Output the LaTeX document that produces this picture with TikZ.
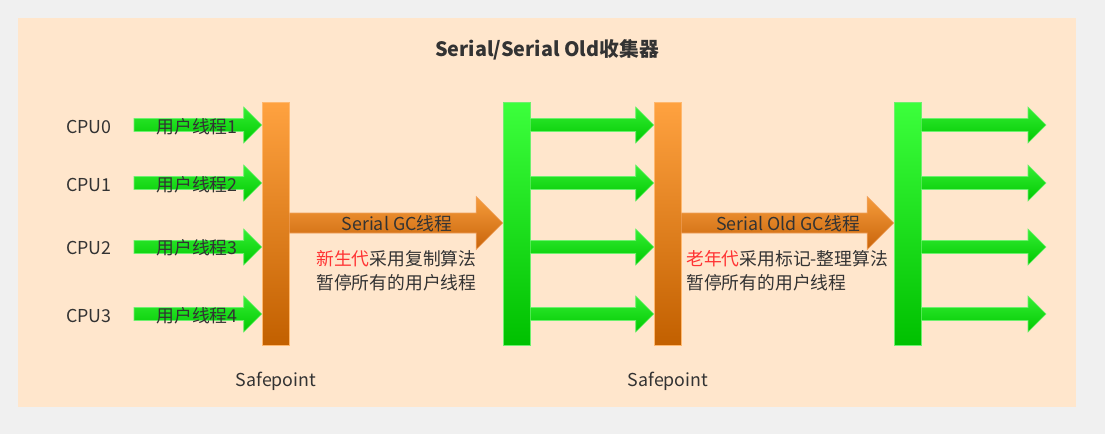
\documentclass[tikz,border=0pt]{standalone}
\usepackage{fontspec}
\setmainfont{Noto Sans CJK SC}
\usepackage{tikz}
\usetikzlibrary{calc}
\definecolor{peach}{HTML}{FFE6CC}
\definecolor{pagegray}{HTML}{F0F0F0}
\definecolor{txt}{HTML}{333333}
\definecolor{hot}{HTML}{FF3333}
\tikzset{
	every node/.style={text=txt, font=\fontsize{17.8}{21}\selectfont},
	spbar/.style={minimum width=27pt, minimum height=243pt, inner sep=0pt, top color={rgb,255:red,255;green,162;blue,64}, bottom color={rgb,255:red,194;green,96;blue,0}, draw={rgb,255:red,255;green,184;blue,110}, line width=0.6pt},
	gcbar/.style={minimum width=27pt, minimum height=243pt, inner sep=0pt, top color={rgb,255:red,60;green,255;blue,60}, bottom color={rgb,255:red,0;green,192;blue,0}, draw={rgb,255:red,110;green,240;blue,110}, line width=0.6pt},
	garrow/.style={top color={rgb,255:red,52;green,238;blue,52}, bottom color={rgb,255:red,0;green,200;blue,0}, draw={rgb,255:red,110;green,240;blue,110}, line width=0.6pt},
	oarrow/.style={top color={rgb,255:red,246;green,156;blue,60}, bottom color={rgb,255:red,200;green,100;blue,10}, draw={rgb,255:red,240;green,160;blue,90}, line width=0.6pt}
}
% block arrow: style, from, to, half shaft, half head
\newcommand{\blkarrow}[5]{%
\path[#1] let \p1=(#2), \p2=(#3) in (\x1,\y1+#4pt) -- (\x2-#5pt,\y1+#4pt) -- (\x2-#5pt,\y1+#5pt) -- (\x2,\y1) -- (\x2-#5pt,\y1-#5pt) -- (\x2-#5pt,\y1-#4pt) -- (\x1,\y1-#4pt) -- cycle;}

\begin{document}
\begin{tikzpicture}[x=1pt, y=-1pt]
\fill[pagegray] (0,0) rectangle (1105,434);
\fill[peach] (18,18) rectangle (1076,407);
\node (title) at (547,50) {\fontsize{19.8}{23}\selectfont\bfseries Serial/Serial Old收集器};
\node (sp1) [spbar] at (275.5,223.5) {};
\node (g1) [gcbar] at (516.5,223.5) {};
\node (sp2) [spbar] at (667.5,223.5) {};
\node (g2) [gcbar] at (907.5,223.5) {};
\coordinate (t0) at (134,125); \coordinate (t1) at (134,183);
\coordinate (t2) at (134,247); \coordinate (t3) at (134,314);
\coordinate (rim) at (1046,0); \coordinate (mid) at (0,223);
\node (cpu0) at (89,127) {CPU0};
\node (cpu1) at (89,185) {CPU1};
\node (cpu2) at (89,248) {CPU2};
\node (cpu3) at (89,316) {CPU3};
\blkarrow{garrow}{t0}{sp1.west |- t0}{6.5}{18}
\blkarrow{garrow}{t1}{sp1.west |- t1}{6.5}{18}
\blkarrow{garrow}{t2}{sp1.west |- t2}{6.5}{18}
\blkarrow{garrow}{t3}{sp1.west |- t3}{6.5}{18}
\blkarrow{garrow}{g1.east |- t0}{sp2.west |- t0}{6.5}{18}
\blkarrow{garrow}{g1.east |- t1}{sp2.west |- t1}{6.5}{18}
\blkarrow{garrow}{g1.east |- t2}{sp2.west |- t2}{6.5}{18}
\blkarrow{garrow}{g1.east |- t3}{sp2.west |- t3}{6.5}{18}
\blkarrow{garrow}{g2.east |- t0}{rim |- t0}{6.5}{18}
\blkarrow{garrow}{g2.east |- t1}{rim |- t1}{6.5}{18}
\blkarrow{garrow}{g2.east |- t2}{rim |- t2}{6.5}{18}
\blkarrow{garrow}{g2.east |- t3}{rim |- t3}{6.5}{18}
\blkarrow{oarrow}{sp1.east |- mid}{g1.west |- mid}{10}{26.5}
\blkarrow{oarrow}{sp2.east |- mid}{g2.west |- mid}{10}{26.5}
\node (ut1) at (197,127) {用户线程1};
\node (ut2) at (197,185) {用户线程2};
\node (ut3) at (197,248) {用户线程3};
\node (ut4) at (197,316) {用户线程4};
\node (sgc) at (397,224) {Serial GC线程};
\node (sogc) at (788,224) {Serial Old GC线程};
\node (young1) [anchor=west, inner sep=0pt] at (316,259) {\textcolor{hot}{新生代}采用复制算法};
\node (young2) [anchor=west, inner sep=0pt] at (316,283) {暂停所有的用户线程};
\node (old1) [anchor=west, inner sep=0pt] at (686,259) {\textcolor{hot}{老年代}采用标记-整理算法};
\node (old2) [anchor=west, inner sep=0pt] at (686,283) {暂停所有的用户线程};
\node (safe1) at (276,381) {Safepoint};
\node (safe2) at (668,381) {Safepoint};
\end{tikzpicture}
\end{document}
